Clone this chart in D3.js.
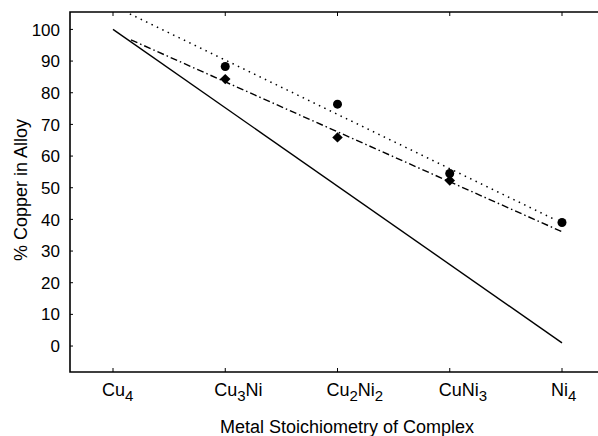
<!DOCTYPE html>
<html>
<head>
<meta charset="utf-8">
<script src="https://cdn.jsdelivr.net/npm/d3@7"></script>
<style>
  html, body { margin: 0; padding: 0; background: #fff; }
  svg { display: block; font-family: "Liberation Sans", Arial, Helvetica, sans-serif; }
</style>
</head>
<body>
<div id="chart"></div>
<script>
// Copper content of alloy vs. metal stoichiometry of the starting complex

// ---------------------------------------------------------------------------//
// Data
// ---------------------------------------------------------------------------//
const categories = ["Cu4", "Cu3Ni", "Cu2Ni2", "CuNi3", "Ni4"];
const yTicks = [0, 10, 20, 30, 40, 50, 60, 70, 80, 90, 100];

// measured points (index into categories, % Cu)
const circleIdx = [1, 2, 3, 4];
const circleVals = [88.3, 76.4, 54.5, 39.0];
const diamondIdx = [1, 2, 3];
const diamondVals = [84.3, 65.9, 52.3];

// theoretical line (stoichiometric)
const solidIdx = [0, 4];
const solidVals = [100, 1];

// fitted lines
const dottedIdx = [0.15, 3.94];
const dottedVals = [104.9, 39.9];
const dashDotIdx = [0.16, 4.0];
const dashDotVals = [96.7, 36.1];

// ---------------------------------------------------------------------------//
// Layout
// ---------------------------------------------------------------------------//
const width = 598;
const height = 436;
const plot = { left: 70, top: 12, right: 598, bottom: 372 };

const svg = d3.select("#chart")
  .append("svg")
  .attr("width", width)
  .attr("height", height);

const x = d3.scaleLinear().domain([0, 4]).range([113, 562]);
const y = d3.scaleLinear().domain([-8.2, 105.5]).range([plot.bottom, plot.top]);

const toPts = (idx, vals) => idx.map((d, i) => ({ i: d, v: vals[i] }));

const line = d3.line()
  .x((d) => x(d.i))
  .y((d) => y(d.v));

svg.append("clipPath")
  .attr("id", "plot-clip")
  .append("rect")
  .attr("x", plot.left)
  .attr("y", plot.top)
  .attr("width", plot.right - plot.left)
  .attr("height", plot.bottom - plot.top);

// ---------------------------------------------------------------------------//
// Axes / frame
// ---------------------------------------------------------------------------//
const frame = svg.append("g").attr("stroke", "#000").attr("fill", "none");

frame.append("path")
  .attr("d", `M${plot.right},${plot.top}H${plot.left}V${plot.bottom}H${plot.right}`)
  .attr("stroke-width", 1.6);

// y ticks (inside)
svg.append("g")
  .selectAll("line")
  .data(yTicks)
  .join("line")
  .attr("x1", plot.left)
  .attr("x2", plot.left + 3)
  .attr("y1", (d) => y(d))
  .attr("y2", (d) => y(d))
  .attr("stroke", "#000")
  .attr("stroke-width", 1);

svg.append("g")
  .selectAll("text")
  .data(yTicks)
  .join("text")
  .attr("x", plot.left - 10)
  .attr("y", (d) => y(d))
  .attr("dy", "0.36em")
  .attr("text-anchor", "end")
  .attr("font-size", 17)
  .text((d) => d);

// x ticks, top and bottom, pointing inward
const xTickIdx = d3.range(categories.length);
svg.append("g")
  .selectAll("line")
  .data(xTickIdx)
  .join("line")
  .attr("x1", (d) => x(d))
  .attr("x2", (d) => x(d))
  .attr("y1", plot.top)
  .attr("y2", plot.top + 4)
  .attr("stroke", "#000");

svg.append("g")
  .selectAll("line")
  .data(xTickIdx)
  .join("line")
  .attr("x1", (d) => x(d))
  .attr("x2", (d) => x(d))
  .attr("y1", plot.bottom)
  .attr("y2", plot.bottom - 4)
  .attr("stroke", "#000");

// category labels with subscript digits
const labels = svg.append("g")
  .selectAll("text")
  .data(categories)
  .join("text")
  .attr("x", (d, i) => x(i) - 11)
  .attr("y", 396)
  .attr("font-size", 18);

labels.each(function (d) {
  const t = d3.select(this);
  const parts = d.match(/[A-Za-z]+|\d+/g);
  let sub = false;
  parts.forEach((p) => {
    const isNum = /^\d+$/.test(p);
    const span = t.append("tspan").text(p);
    if (isNum && !sub) {
      span.attr("dy", 5).attr("font-size", 15);
      sub = true;
    } else if (!isNum && sub) {
      span.attr("dy", -5);
      sub = false;
    } else if (isNum) {
      span.attr("font-size", 15);
    }
  });
});

// axis titles
svg.append("text")
  .attr("x", 347)
  .attr("y", 433)
  .attr("text-anchor", "middle")
  .attr("font-size", 18)
  .text("Metal Stoichiometry of Complex");

svg.append("text")
  .attr("transform", "translate(27,190) rotate(-90)")
  .attr("text-anchor", "middle")
  .attr("font-size", 18)
  .text("% Copper in Alloy");

// ---------------------------------------------------------------------------//
// Lines
// ---------------------------------------------------------------------------//
const lines = svg.append("g").attr("clip-path", "url(#plot-clip)").attr("fill", "none");

lines.append("path")
  .attr("d", line(toPts(solidIdx, solidVals)))
  .attr("stroke", "#000")
  .attr("stroke-width", 1.4);

lines.append("path")
  .attr("d", line(toPts(dottedIdx, dottedVals)))
  .attr("stroke", "#000")
  .attr("stroke-width", 1.5)
  .attr("stroke-dasharray", "1.5,4.5");

lines.append("path")
  .attr("d", line(toPts(dashDotIdx, dashDotVals)))
  .attr("stroke", "#000")
  .attr("stroke-width", 1.4)
  .attr("stroke-dasharray", "7,3,1.5,3");

// ---------------------------------------------------------------------------//
// Markers
// ---------------------------------------------------------------------------//
svg.append("g")
  .selectAll("circle")
  .data(toPts(circleIdx, circleVals))
  .join("circle")
  .attr("cx", (d) => x(d.i))
  .attr("cy", (d) => y(d.v))
  .attr("r", 4.5)
  .attr("fill", "#000");

const diamond = d3.symbol().type(d3.symbolDiamond2).size(70);
svg.append("g")
  .selectAll("path")
  .data(toPts(diamondIdx, diamondVals))
  .join("path")
  .attr("transform", (d) => `translate(${x(d.i)},${y(d.v)})`)
  .attr("d", diamond)
  .attr("fill", "#000");
</script>
</body>
</html>
